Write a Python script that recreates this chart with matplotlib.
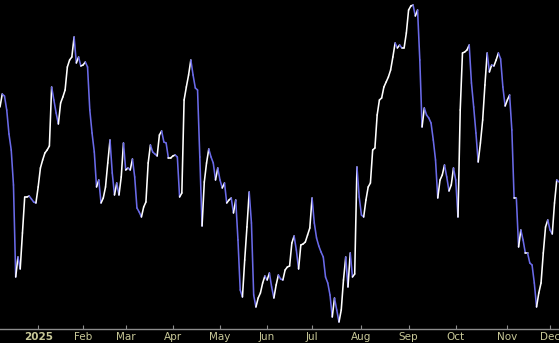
import numpy as np
import pandas as pd
import matplotlib
matplotlib.use("Agg")
import matplotlib.pyplot as plt
from matplotlib.collections import LineCollection

# daily closes (arbitrary level units), one per trading day, 2024-12-06 .. 2025-12-05
levels = [
    222, 235, 233, 219, 195, 179, 144, 52, 72, 60,
    96, 132, 132, 133, 130, 127, 126, 142, 161, 169,
    176, 179, 183, 242, 229, 216, 205, 226, 232, 239,
    262, 269, 272, 292, 266, 272, 263, 264, 267, 262,
    219, 196, 177, 142, 149, 126, 131, 142, 166, 189,
    156, 134, 146, 134, 152, 186, 159, 161, 159, 170,
    152, 121, 117, 112, 122, 127, 166, 184, 177, 175,
    173, 194, 198, 187, 186, 171, 171, 173, 174, 172,
    132, 136, 229, 242, 254, 269, 254, 241, 239, 172,
    103, 147, 166, 180, 172, 166, 149, 161, 149, 141,
    146, 126, 129, 131, 116, 129, 89, 39, 32, 69,
    102, 137, 106, 34, 22, 31, 36, 46, 53, 49,
    56, 42, 31, 44, 54, 50, 49, 59, 62, 63,
    86, 93, 79, 60, 84, 85, 87, 94, 101, 131,
    106, 91, 83, 77, 72, 52, 46, 34, 12, 31,
    19, 7, 19, 49, 72, 42, 76, 52, 55, 162,
    132, 114, 112, 129, 142, 146, 179, 181, 214, 229,
    231, 242, 247, 252, 259, 272, 286, 281, 284, 281,
    281, 296, 319, 323, 324, 313, 319, 269, 202, 221,
    214, 211, 206, 189, 169, 131, 149, 154, 164, 152,
    138, 144, 161, 149, 112, 219, 276, 277, 279, 284,
    246, 222, 196, 167, 186, 209, 244, 276, 257, 264,
    263, 269, 276, 270, 242, 223, 229, 234, 199, 131,
    131, 82, 99, 89, 76, 76, 66, 64, 46, 22,
    36, 46, 76, 102, 109, 99, 95, 126, 149, 147,
]

holidays = ["2024-12-25", "2025-01-01", "2025-01-09", "2025-01-20", "2025-02-17",
            "2025-04-18", "2025-05-26", "2025-06-19", "2025-07-04", "2025-09-01",
            "2025-11-27"]
month_labels = ["2025", "Feb", "Mar", "Apr", "May", "Jun", "Jul", "Aug", "Sep",
                "Oct", "Nov", "Dec"]

days = pd.date_range("2024-12-06", periods=len(levels),
                     freq=pd.offsets.CustomBusinessDay(holidays=holidays))
y = np.array(levels, dtype=float)
x = np.arange(len(y))

# first trading day of each month of 2025
per = days.to_period("M")
tick_pos = [int(np.argmax(per == p)) for p in pd.period_range("2025-01", "2025-12", freq="M")]

fig = plt.figure(figsize=(5.59, 3.43), dpi=100, facecolor="black")
ax = fig.add_axes([0, 14 / 343, 1, 329 / 343])
ax.set_facecolor("black")

# white on up days, blue on down days
pts = np.column_stack([x, y]).reshape(-1, 1, 2)
segs = np.concatenate([pts[:-1], pts[1:]], axis=1)
cols = ["white" if d >= 0 else "#6a6ae8" for d in np.diff(y)]
lc = LineCollection(segs, colors=cols, linewidths=1.15, capstyle="round", joinstyle="round")
ax.add_collection(lc)

ax.set_xlim(0, len(y) - 1)
ax.set_ylim(0, 329)

for s in ["top", "left", "right"]:
    ax.spines[s].set_visible(False)
ax.spines["bottom"].set_color("#8c8c8c")
ax.spines["bottom"].set_linewidth(1.0)
ax.set_yticks([])
ax.set_xticks(tick_pos)
ax.set_xticklabels(month_labels)
ax.tick_params(axis="x", direction="in", length=3, width=0.8, color="#8c8c8c",
               labelcolor="#c8c898", labelsize=7.5, pad=2)
ax.get_xticklabels()[0].set_fontweight("bold")

fig.savefig("out.png", dpi=100, facecolor="black")
